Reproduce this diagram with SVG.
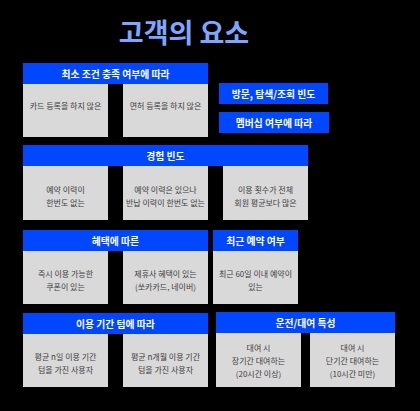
<svg xmlns="http://www.w3.org/2000/svg" width="420" height="411" viewBox="0 0 420 411">
<style>
.bg{fill:#000}
.hd{fill:#0047ff}
.bx{fill:#d9d9d9}
.ht{fill:#fff;font-family:"Noto Sans CJK KR","Noto Sans",sans-serif;font-weight:700;font-size:9.8px;text-anchor:middle;dominant-baseline:central}
.bt{fill:#3f3f3f;font-family:"Noto Sans CJK KR","Noto Sans",sans-serif;font-size:8px;text-anchor:middle;dominant-baseline:central}
.tt{fill:#7fa6ff;font-family:"Noto Sans CJK KR","Noto Sans",sans-serif;font-weight:700;font-size:27px;text-anchor:middle;dominant-baseline:central}
</style>
<rect class="bg" x="0" y="0" width="420" height="411"/>
<text class="tt" x="184" y="31">고객의 요소</text>

<g id="s1">
<rect class="hd" x="23" y="63" width="185" height="21"/>
<text class="ht" x="115.5" y="73.5">최소 조건 충족 여부에 따라</text>
<rect class="bx" x="23" y="84" width="85" height="53"/>
<text class="bt" x="65.5" y="105">카드 등록을 하지 않은</text>
<rect class="bx" x="123" y="84" width="85" height="53"/>
<text class="bt" x="165.5" y="105">면허 등록을 하지 않은</text>
</g>
<g id="visit">
<rect class="hd" x="219" y="83" width="109" height="21"/>
<text class="ht" x="273.5" y="93.5">방문, 탐색/조회 빈도</text>
</g>
<g id="member">
<rect class="hd" x="219" y="112" width="110" height="21"/>
<text class="ht" x="274" y="122.5">멤버십 여부에 따라</text>
</g>

<g id="s2">
<rect class="hd" x="23" y="145" width="285" height="21"/>
<text class="ht" x="165.5" y="155.5">경험 빈도</text>
<rect class="bx" x="23" y="166" width="85" height="54"/>
<text class="bt" x="65.5" y="189">예약 이력이</text>
<text class="bt" x="65.5" y="202">한번도 없는</text>
<rect class="bx" x="123" y="166" width="85" height="54"/>
<text class="bt" x="165.5" y="189">예약 이력은 있으나</text>
<text class="bt" x="165.5" y="202">반납 이력이 한번도 없는</text>
<rect class="bx" x="223" y="166" width="85" height="54"/>
<text class="bt" x="265.5" y="189">이용 횟수가 전체</text>
<text class="bt" x="265.5" y="202">회원 평균보다 많은</text>
</g>

<g id="s3">
<rect class="hd" x="23" y="230" width="185" height="21"/>
<text class="ht" x="115.5" y="240.5">혜택에 따른</text>
<rect class="bx" x="23" y="251" width="85" height="53"/>
<text class="bt" x="65.5" y="273">즉시 이용 가능한</text>
<text class="bt" x="65.5" y="286">쿠폰이 있는</text>
<rect class="bx" x="123" y="251" width="85" height="53"/>
<text class="bt" x="165.5" y="273">제휴사 혜택이 있는</text>
<text class="bt" x="165.5" y="286">(쏘카카드, 네이버)</text>
</g>
<g id="recent">
<rect class="hd" x="213" y="230" width="85" height="21"/>
<text class="ht" x="255.5" y="240.5">최근 예약 여부</text>
<rect class="bx" x="213" y="251" width="85" height="53"/>
<text class="bt" x="255.5" y="273">최근 60일 이내 예약이</text>
<text class="bt" x="255.5" y="286">있는</text>
</g>

<g id="s4">
<rect class="hd" x="23" y="313" width="185" height="21"/>
<text class="ht" x="115.5" y="323.5">이용 기간 텀에 따라</text>
<rect class="bx" x="23" y="334" width="85" height="53"/>
<text class="bt" x="65.5" y="356">평균 n일 이용 기간</text>
<text class="bt" x="65.5" y="369">텀을 가진 사용자</text>
<rect class="bx" x="123" y="334" width="85" height="53"/>
<text class="bt" x="165.5" y="356">평균 n개월 이용 기간</text>
<text class="bt" x="165.5" y="369">텀을 가진 사용자</text>
</g>
<g id="s5">
<rect class="hd" x="216" y="312" width="179" height="21"/>
<text class="ht" x="305.5" y="322.5">운전/대여 특성</text>
<rect class="bx" x="216" y="333" width="85" height="54"/>
<text class="bt" x="258.5" y="347">대여 시</text>
<text class="bt" x="258.5" y="360">장기간 대여하는</text>
<text class="bt" x="258.5" y="373">(20시간 이상)</text>
<rect class="bx" x="310" y="333" width="85" height="54"/>
<text class="bt" x="352.5" y="347">대여 시</text>
<text class="bt" x="352.5" y="360">단기간 대여하는</text>
<text class="bt" x="352.5" y="373">(10시간 미만)</text>
</g>
<g id="connectors"/>
</svg>
